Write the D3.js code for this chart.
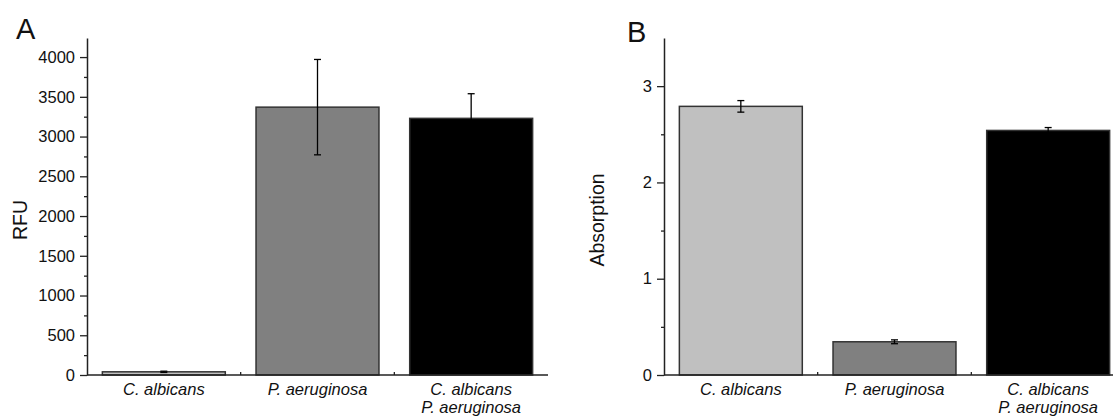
<!DOCTYPE html>
<html>
<head>
<meta charset="utf-8">
<script src="https://cdn.jsdelivr.net/npm/d3@7"></script>
<style>
  html, body { margin: 0; padding: 0; background: #fff; }
  svg { display: block; }
  text { font-family: "Liberation Sans", Arial, sans-serif; fill: #111; }
</style>
</head>
<body>
<script>
// data
const categories = [["C. albicans"], ["P. aeruginosa"], ["C. albicans", "P. aeruginosa"]];
const barColors = ["#c0c0c0", "#808080", "#000000"];

const rfuMeans = [40, 3370, 3229];
const rfuErrors = [8, 600, 310];
const rfuTicks = [0, 500, 1000, 1500, 2000, 2500, 3000, 3500, 4000];
const rfuMinor = [250, 750, 1250, 1750, 2250, 2750, 3250, 3750];

const absMeans = [2.79, 0.345, 2.54];
const absErrors = [0.06, 0.02, 0.03];
const absTicks = [0, 1, 2, 3];
const absMinor = [0.5, 1.5, 2.5];

const width = 1113, height = 416;

const svg = d3.select('body').append('svg')
    .attr('width', width)
    .attr('height', height);

const drawPanel = opts => {
    const x = d3.scaleBand()
        .domain(d3.range(categories.length))
        .range([opts.left, opts.left + 461])
        .paddingInner(0.2)
        .paddingOuter(0.1);

    const y = d3.scaleLinear()
        .domain([0, opts.max])
        .range([375, 38]);

    const g = svg.append('g');

    // bars
    g.selectAll('rect.bar')
        .data(opts.means)
        .enter().append('rect')
        .attr('class', 'bar')
        .attr('x', (d, i) => x(i))
        .attr('y', d => y(d))
        .attr('width', x.bandwidth())
        .attr('height', d => y(0) - y(d))
        .attr('fill', (d, i) => barColors[i])
        .attr('stroke', '#333')
        .attr('stroke-width', 1.5);

    // error bars
    const cap = 3.5;
    const err = g.selectAll('g.err')
        .data(opts.means)
        .enter().append('g')
        .attr('class', 'err')
        .attr('stroke', '#000')
        .attr('stroke-width', 1.3);
    err.append('line')
        .attr('x1', (d, i) => x(i) + x.bandwidth() / 2)
        .attr('x2', (d, i) => x(i) + x.bandwidth() / 2)
        .attr('y1', (d, i) => y(d - opts.errors[i]))
        .attr('y2', (d, i) => y(d + opts.errors[i]));
    [-1, 1].forEach(s => {
        err.append('line')
            .attr('x1', (d, i) => x(i) + x.bandwidth() / 2 - cap)
            .attr('x2', (d, i) => x(i) + x.bandwidth() / 2 + cap)
            .attr('y1', (d, i) => y(d + s * opts.errors[i]))
            .attr('y2', (d, i) => y(d + s * opts.errors[i]));
    });

    // y axis, major and minor ticks
    const yAxis = g.append('g')
        .attr('transform', `translate(${opts.left},0)`)
        .call(d3.axisLeft(y).tickValues(opts.ticks).tickFormat(d3.format('d'))
            .tickSize(7).tickSizeOuter(0).tickPadding(5));
    yAxis.select('.domain').attr('stroke', '#222').attr('stroke-width', 1.5);
    yAxis.selectAll('.tick line').attr('stroke', '#222').attr('stroke-width', 1.3);
    yAxis.selectAll('.tick text')
        .attr('font-size', 16.5)
        .attr('font-family', '"Liberation Sans", Arial, sans-serif')
        .attr('fill', '#111');

    g.append('g')
        .attr('transform', `translate(${opts.left},0)`)
        .call(d3.axisLeft(y).tickValues(opts.minor).tickSize(3).tickSizeOuter(0).tickFormat(''))
        .call(a => a.select('.domain').remove())
        .selectAll('.tick line').attr('stroke', '#222').attr('stroke-width', 1.3);

    // x axis line and small inward ticks between categories
    g.append('line')
        .attr('x1', x.range()[0]).attr('x2', x.range()[1])
        .attr('y1', y(0)).attr('y2', y(0))
        .attr('stroke', '#222').attr('stroke-width', 1.5);
    g.selectAll('line.xtick')
        .data(d3.range(1, categories.length))
        .enter().append('line')
        .attr('class', 'xtick')
        .attr('x1', i => x.range()[0] + x.step() * i)
        .attr('x2', i => x.range()[0] + x.step() * i)
        .attr('y1', y(0)).attr('y2', y(0) - 3)
        .attr('stroke', '#222').attr('stroke-width', 1.3);

    // category labels
    const lab = g.selectAll('text.cat')
        .data(categories)
        .enter().append('text')
        .attr('class', 'cat')
        .attr('text-anchor', 'middle')
        .attr('font-size', 16.5)
        .attr('font-style', 'italic')
        .attr('y', 395);
    lab.selectAll('tspan')
        .data((d, i) => d.map(t => ({ t, i })))
        .enter().append('tspan')
        .attr('x', d => x(d.i) + x.bandwidth() / 2)
        .attr('dy', (d, j) => j === 0 ? 0 : 18)
        .text(d => d.t);

    // axis title
    g.append('text')
        .attr('transform', `translate(${opts.left - 60},${220}) rotate(-90)`)
        .attr('text-anchor', 'middle')
        .attr('font-size', 19.5)
        .text(opts.title);

    // panel letter
    g.append('text')
        .attr('x', opts.letterX)
        .attr('y', opts.letterY)
        .attr('font-size', 29)
        .attr('font-family', '"Open Sans", sans-serif')
        .text(opts.letter);
};

drawPanel({
    left: 87, max: 4240, means: rfuMeans, errors: rfuErrors,
    ticks: rfuTicks, minor: rfuMinor, title: 'RFU',
    letter: 'A', letterX: 16, letterY: 39
});

drawPanel({
    left: 664, max: 3.5, means: absMeans, errors: absErrors,
    ticks: absTicks, minor: absMinor, title: 'Absorption',
    letter: 'B', letterX: 627, letterY: 42
});
</script>
</body>
</html>
